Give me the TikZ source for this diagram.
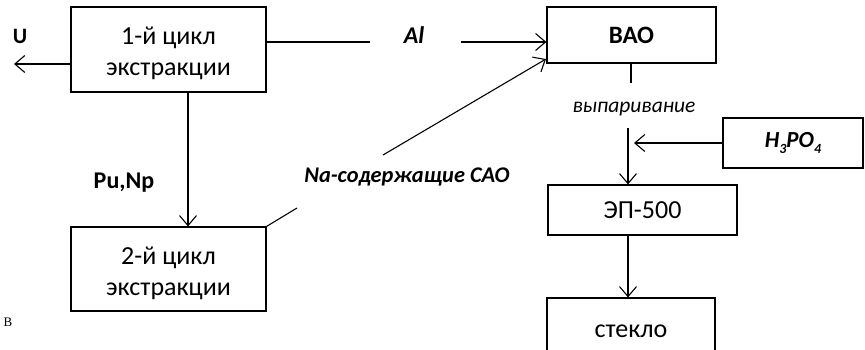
\documentclass[tikz,border=0pt]{standalone}
\usepackage{fontspec}
\setmainfont{Carlito}
\newfontfamily\serifcyr{Liberation Serif}
\usetikzlibrary{arrows.meta}
\newcommand{\sbs}[1]{\raisebox{-0.45ex}{\fontsize{14}{14}\selectfont #1}}
\tikzset{
  blk/.style={draw, line width=1.2pt, align=center, inner sep=0pt, font=\fontsize{26}{31}\selectfont},
  lbl/.style={inner sep=0pt, font=\bfseries\fontsize{22}{26}\selectfont},
  arr/.style={-{Straight Barb[length=10pt,width=17pt,line width=1.1pt]}}
}
\begin{document}
\begin{tikzpicture}[x=1pt, y=-1pt, line width=1.1pt]
  \useasboundingbox (0,0) rectangle (865,350);
  \clip (0,0) rectangle (865,350);
  % Блоки
  \node[blk, minimum width=195pt, minimum height=85pt] (cyc1) at (168.5,49.5) {\rule{0pt}{26pt}1-й цикл\\экстракции};
  \node[blk, minimum width=195pt, minimum height=84pt] (cyc2) at (168.5,269) {\rule{0pt}{26pt}2-й цикл\\экстракции};
  \node[blk, minimum width=169pt, minimum height=56pt, font=\bfseries\fontsize{25}{30}\selectfont] (vao) at (631.5,35) {ВАО};
  \node[blk, minimum width=140pt, minimum height=50pt, font=\bfseries\itshape\fontsize{23}{30}\selectfont] (acid) at (793,143) {H\sbs{3}PO\sbs{4}};
  \node[blk, minimum width=189pt, minimum height=50pt] (ep) at (642.5,210) {ЭП-500};
  \node[blk, minimum width=168pt, minimum height=66pt] (glass) at (631,331) {стекло};
  % Подписи
  \node[lbl, font=\bfseries\fontsize{22}{24}\selectfont] (u) at (20,36) {U};
  \node[lbl, font=\bfseries\itshape\fontsize{24}{26}\selectfont] (al) at (414,35) {Al};
  \node[lbl, font=\bfseries\fontsize{24}{26}\selectfont] (punp) at (124,183) {Pu,Np};
  \node[lbl, font=\bfseries\itshape\fontsize{22.4}{24}\selectfont] (na) at (407,177) {Na-содержащие САО};
  \node[inner sep=0pt, font=\itshape\fontsize{21.5}{24}\selectfont] (evap) at (634,109) {выпаривание};
  \node[inner sep=0pt, font=\serifcyr\fontsize{13}{15}\selectfont] (v) at (8,322) {В};
  % Точки
  \coordinate (uEnd) at (14,64);
  \coordinate (alA) at (370,42);
  \coordinate (alB) at (461,42);
  \coordinate (puX) at (188,150);
  \coordinate (naA) at (297,208);
  \coordinate (naB) at (383,155);
  \coordinate (naTip) at (546,59);
  \coordinate (vaoTick) at (631,83);
  \coordinate (evTop) at (628,128);
  \coordinate (acTip) at (634,143);
  % Стрелки
  \draw[arr] (cyc1.west |- uEnd) -- (uEnd);
  \draw (cyc1.east |- alA) -- (alA);
  \draw[arr] (alB) -- (vao.west |- alB);
  \draw[arr] (cyc1.south -| puX) -- (cyc2.north -| puX);
  \draw (cyc2.north east) -- (naA);
  \draw[arr] (naB) -- (naTip);
  \draw (vao.south -| vaoTick) -- (vaoTick);
  \draw[arr] (evTop) -- (ep.north -| evTop);
  \draw[arr] (acid.west) -- (acTip);
  \draw[arr] (ep.south -| evTop) -- (glass.north -| evTop);
\end{tikzpicture}
\end{document}
